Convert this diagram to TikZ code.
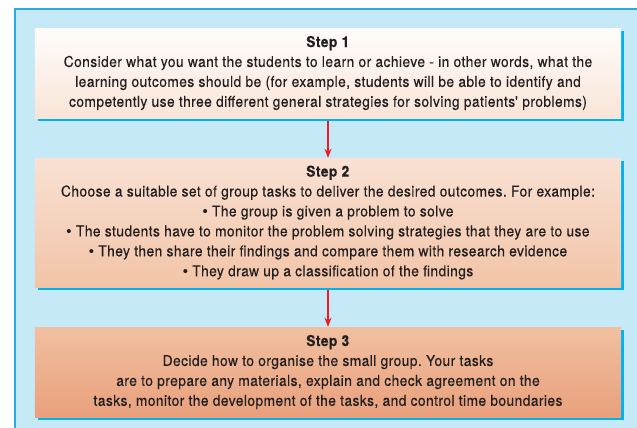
\documentclass[tikz,border=0pt]{standalone}
\usepackage{fontspec}
\setmainfont{TeX Gyre Heros}[FakeStretch=0.92,LetterSpace=3.0,FakeBold=0.4]
\newfontfamily\bulfont{Liberation Sans}
\newcommand{\bul}{{\bulfont •}}
\frenchspacing
\usetikzlibrary{shadows,arrows.meta}
\definecolor{panel}{HTML}{C6E9F8}
\definecolor{panelline}{HTML}{29ABE2}
\definecolor{shadowc}{HTML}{00B2EE}
\definecolor{txt}{HTML}{231F20}
\definecolor{arr}{HTML}{ED1C24}
\definecolor{aTop}{HTML}{FFFDFC}
\definecolor{aBot}{HTML}{F9E4D7}
\definecolor{bTop}{HTML}{F9E1D3}
\definecolor{bBot}{HTML}{F2C4A7}
\definecolor{cTop}{HTML}{F1C0A1}
\definecolor{cBot}{HTML}{E9A07C}
\tikzset{
  stepbox/.style={rectangle, minimum width=586bp, inner sep=0pt, align=center,
    text=txt, font=\fontsize{15}{20}\selectfont\frenchspacing,
    drop shadow={shadow xshift=3bp, shadow yshift=-3bp, fill=shadowc, opacity=1}},
  flow/.style={draw=arr, line width=1.3bp, -{Stealth[length=9bp,width=7bp]}, shorten <=3bp}
}
\begin{document}
\begin{tikzpicture}[x=1bp,y=-1bp]
\useasboundingbox (0,0) rectangle (637,427);
\fill[white] (0,0) rectangle (637,427);
\fill[panel] (15,9) rectangle (640,430);
\draw[panelline, line width=1.4bp] (15,430) -- (15,9) -- (640,9);
\node[stepbox, minimum height=90bp, top color=aTop, bottom color=aBot] (s1) at (328,73)
  {\textbf{Step 1}\\Consider what you want the students to learn or achieve - in other words, what the\\learning outcomes should be (for example, students will be able to identify and\\competently use three different general strategies for solving patients\textquotesingle\ problems)};
\node[stepbox, minimum height=129bp, top color=bTop, bottom color=bBot] (s2) at (328,222.5)
  {\textbf{Step 2}\\Choose a suitable set of group tasks to deliver the desired outcomes. For example:\\\bul{} The group is given a problem to solve\\\bul{} The students have to monitor the problem solving strategies that they are to use\\\bul{} They then share their findings and compare them with research evidence\\\bul{} They draw up a classification of the findings};
\node[stepbox, minimum height=90bp, top color=cTop, bottom color=cBot] (s3) at (328,372)
  {\textbf{Step 3}\\Decide how to organise the small group. Your tasks\\are to prepare any materials, explain and check agreement on the\\tasks, monitor the development of the tasks, and control time boundaries};
\draw[flow] (s1) -- (s2);
\draw[flow] (s2) -- (s3);
\end{tikzpicture}
\end{document}
